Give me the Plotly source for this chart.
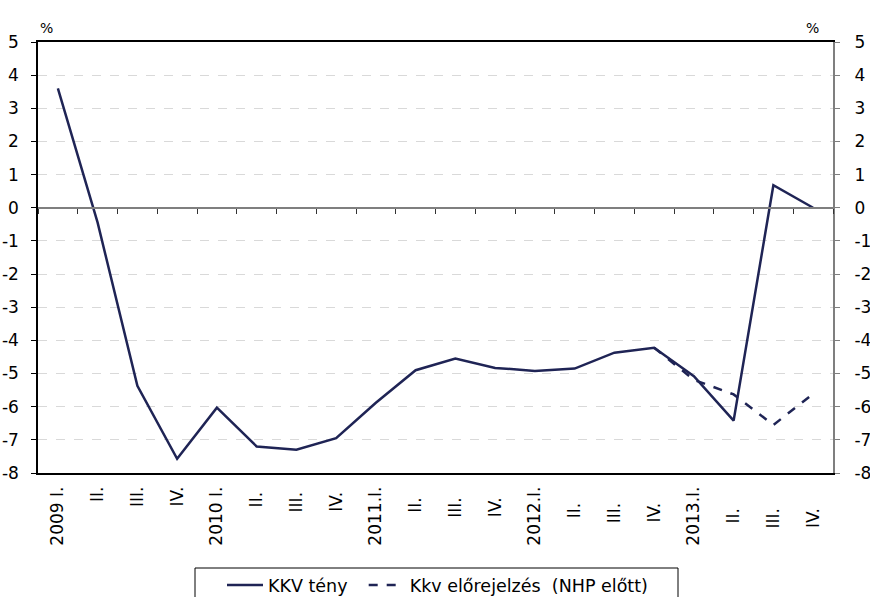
import plotly.graph_objects as go

categories = ["2009 I.", "II.", "III.", "IV.", "2010 I.", "II. ", "III. ", "IV. ",
              "2011.I.", "II.  ", "III.  ", "IV.  ", "2012.I.", "II.   ", "III.   ", "IV.   ",
              "2013.I.", "II.    ", "III.    ", "IV.    "]
kkv_teny = [3.6, -0.45, -5.37, -7.57, -6.03, -7.2, -7.3, -6.95,
            -5.88, -4.9, -4.55, -4.83, -4.92, -4.85, -4.37, -4.22,
            -5.08, -6.42, 0.68, 0.0]
forecast_cats = categories[15:]
kkv_elore = [-4.22, -5.19, -5.63, -6.55, -5.61]

y_ticks = list(range(-8, 6))
y_ticktext = [str(v) for v in y_ticks]
navy = "#1f2455"
font_family = "DejaVu Sans, sans-serif"

fig = go.Figure()
fig.add_trace(go.Scatter(x=forecast_cats, y=kkv_elore, mode="lines",
                         name="Kkv előrejelzés \u00a0(NHP előtt)",
                         line=dict(color=navy, width=2.5, dash="dash")))
fig.add_trace(go.Scatter(x=categories, y=kkv_teny, mode="lines",
                         name="KKV tény\u00a0\u00a0",
                         line=dict(color=navy, width=2.5)))
fig.add_trace(go.Scatter(x=categories, y=kkv_teny, yaxis="y2", mode="lines",
                         line=dict(width=0), hoverinfo="skip", showlegend=False,
                         opacity=0))
fig.add_trace(go.Scatter(x=categories, y=kkv_teny, xaxis="x2", mode="lines",
                         line=dict(width=0), hoverinfo="skip", showlegend=False,
                         opacity=0))

fig.update_layout(
    width=870, height=597,
    margin=dict(l=38, r=37, t=42, b=124, autoexpand=False),
    paper_bgcolor="white", plot_bgcolor="white",
    font=dict(family=font_family, size=17, color="black"),
    showlegend=True,
    legend=dict(orientation="h", x=(222 - 38) / 795, xanchor="left",
                y=(473 - 585) / 431, yanchor="middle",
                borderwidth=0, bgcolor="rgba(0,0,0,0)",
                font=dict(size=17.5), traceorder="reversed", itemwidth=36),
    shapes=[dict(type="rect", xref="paper", yref="paper",
                 x0=(195 - 38) / 795, x1=(678 - 38) / 795,
                 y0=(473 - 568) / 431, y1=(473 - 610) / 431,
                 line=dict(color="black", width=1), fillcolor="rgba(0,0,0,0)",
                 layer="below")],
    xaxis=dict(type="category", categoryorder="array", categoryarray=categories,
               range=[-0.5, 19.5], tickangle=-90, showgrid=False,
               showline=True, linecolor="black", linewidth=1.5, mirror=True,
               ticks="", tickfont=dict(size=17), automargin=False,
               ticklabelstandoff=5),
    xaxis2=dict(type="category", categoryorder="array", categoryarray=categories,
                range=[-0.5, 19.5], overlaying="x", anchor="free",
                position=(0 - (-8)) / 13, side="bottom",
                showline=True, linecolor="#7f7f7f", linewidth=2,
                ticks="outside", tickson="boundaries", ticklen=5,
                tickcolor="#333333", tickwidth=1,
                showticklabels=False, showgrid=False, automargin=False),
    yaxis=dict(range=[-8, 5], tickvals=y_ticks, ticktext=y_ticktext, showgrid=True,
               gridcolor="#d9d9d9", griddash="dash", gridwidth=1,
               showline=True, linecolor="black", linewidth=1.5,
               ticks="outside", ticklen=5, tickcolor="black",
               zeroline=False, tickfont=dict(size=17), automargin=False,
               ticklabelstandoff=9),
    yaxis2=dict(range=[-8, 5], tickvals=y_ticks, ticktext=y_ticktext,
                overlaying="y", side="right",
                showgrid=False, showline=True, linecolor="#7f7f7f", linewidth=2,
                ticks="outside", ticklen=5, tickcolor="#7f7f7f",
                zeroline=False, tickfont=dict(size=17), automargin=False,
                ticklabelstandoff=11),
    annotations=[
        dict(text="%", xref="paper", yref="paper", x=0.0, y=1.0, xshift=0,
             xanchor="left", yanchor="bottom", yshift=4, showarrow=False,
             font=dict(size=14)),
        dict(text="%", xref="paper", yref="paper", x=1.0, y=1.0, xshift=-12,
             xanchor="right", yanchor="bottom", yshift=4, showarrow=False,
             font=dict(size=14)),
    ],
)

fig.write_html("out.html", config={"displayModeBar": False},
               post_script="document.body.style.margin='0';document.body.style.overflow='hidden';")
